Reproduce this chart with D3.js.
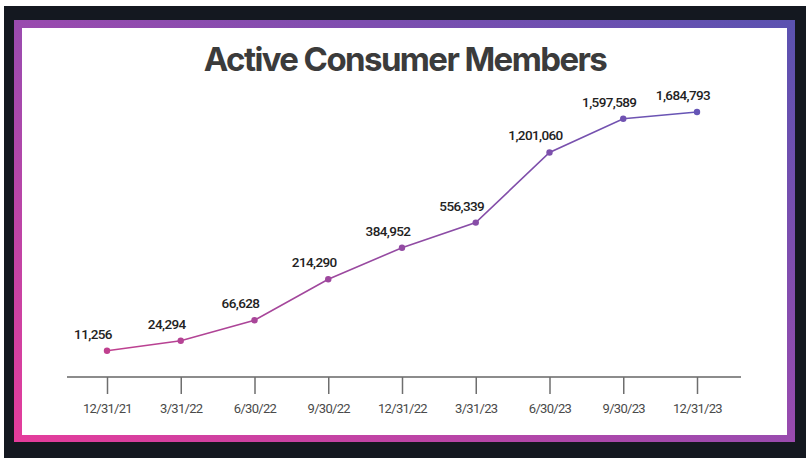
<!DOCTYPE html>
<html>
<head>
<meta charset="utf-8">
<script src="https://cdn.jsdelivr.net/npm/d3@7"></script>
<style>
  html, body { margin: 0; padding: 0; background: #ffffff; }
  svg { display: block; }
</style>
</head>
<body>
<svg id="chart" width="806" height="458"></svg>
<script>
const title = "Active Consumer Members";
const dates = ["12/31/21", "3/31/22", "6/30/22", "9/30/22", "12/31/22", "3/31/23", "6/30/23", "9/30/23", "12/31/23"];
const members = [11256, 24294, 66628, 214290, 384952, 556339, 1201060, 1597589, 1684793];

const W = 806, H = 458;
const svg = d3.select("#chart");
const defs = svg.append("defs");

// border gradient
const bg = defs.append("linearGradient").attr("id", "borderGrad")
  .attr("x1", "0").attr("y1", "1").attr("x2", "1").attr("y2", "0");
bg.append("stop").attr("offset", "0%").attr("stop-color", "#e53c9b");
bg.append("stop").attr("offset", "45%").attr("stop-color", "#a04aae");
bg.append("stop").attr("offset", "100%").attr("stop-color", "#5a52b0");

// frame
svg.append("rect").attr("x", 4).attr("y", 6).attr("width", W - 4).attr("height", H - 6).attr("fill", "#141820");
svg.append("rect").attr("x", 14).attr("y", 20).attr("width", 781).attr("height", 422).attr("fill", "url(#borderGrad)");
svg.append("rect").attr("x", 22).attr("y", 28).attr("width", 765).attr("height", 407).attr("fill", "#ffffff");

// title
svg.append("text")
  .attr("x", 405).attr("y", 71)
  .attr("text-anchor", "middle")
  .attr("font-family", "Inter, 'Liberation Sans', sans-serif")
  .attr("font-weight", 700)
  .attr("font-size", 33)
  .attr("letter-spacing", "-1.6")
  .attr("fill", "#3b3b3b")
  .text(title);

// scales
const x = d3.scalePoint().domain(dates).range([107, 697]);
const y = d3.scaleSqrt().domain([0, d3.max(members)]).range([372, 112]);
const axisY = 377;

// baseline
const [r0, r1] = x.range();
svg.append("line")
  .attr("x1", r0 - 40).attr("x2", r1 + 44)
  .attr("y1", axisY).attr("y2", axisY)
  .attr("stroke", "#8c8c8c").attr("stroke-width", 2);

// axis
const axis = d3.axisBottom(x).tickSize(17).tickPadding(10);
const gx = svg.append("g").attr("transform", `translate(0,${axisY})`).call(axis);
gx.select(".domain").remove();
gx.selectAll(".tick line").attr("stroke", "#6e6e6e").attr("stroke-width", 1.5);
gx.selectAll(".tick text")
  .attr("font-family", "Roboto, sans-serif")
  .attr("font-size", 13)
  .attr("letter-spacing", "-0.7")
  .attr("fill", "#4a4a4a");

// line gradient
const lg = defs.append("linearGradient").attr("id", "lineGrad")
  .attr("gradientUnits", "userSpaceOnUse")
  .attr("x1", r0).attr("x2", r1).attr("y1", 0).attr("y2", 0);
const cStart = "#c0408f", cEnd = "#6555b6";
lg.append("stop").attr("offset", "0%").attr("stop-color", cStart);
lg.append("stop").attr("offset", "100%").attr("stop-color", cEnd);
const colorAt = d3.scaleLinear().domain([r0, r1]).range([cStart, cEnd]).interpolate(d3.interpolateRgb);

const data = dates.map((d, i) => ({ date: d, value: members[i] }));

svg.append("path")
  .datum(data)
  .attr("fill", "none")
  .attr("stroke", "url(#lineGrad)")
  .attr("stroke-width", 1.6)
  .attr("d", d3.line().x(d => x(d.date)).y(d => y(d.value)));

svg.selectAll("circle.pt")
  .data(data).enter().append("circle")
  .attr("class", "pt")
  .attr("cx", d => x(d.date)).attr("cy", d => y(d.value))
  .attr("r", 3.2)
  .attr("fill", d => colorAt(x(d.date)));

const fmt = d3.format(",");
svg.selectAll("text.lbl")
  .data(data).enter().append("text")
  .attr("class", "lbl")
  .attr("x", d => x(d.date) - 14)
  .attr("y", d => y(d.value) - 12)
  .attr("text-anchor", "middle")
  .attr("font-family", "Roboto, sans-serif")
  .attr("font-weight", 500)
  .attr("font-size", 13.5)
  .attr("letter-spacing", "-0.6")
  .attr("fill", "#222222")
  .text(d => fmt(d.value));
</script>
</body>
</html>
